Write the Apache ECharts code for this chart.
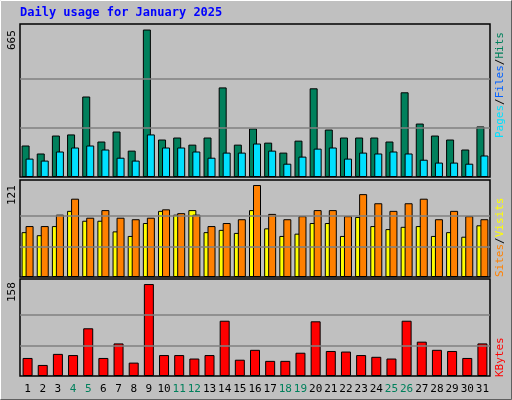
<!DOCTYPE html>
<html><head><meta charset="utf-8">
<script src="https://cdn.jsdelivr.net/npm/echarts@6/dist/echarts.min.js"></script>
<style>html,body{margin:0;padding:0;background:#c0c0c0}#c{width:512px;height:400px}</style>
</head><body><div id="c"></div>
<script>
const days = ['1','2','3','4','5','6','7','8','9','10','11','12','13','14','15','16','17','18','19','20','21','22','23','24','25','26','27','28','29','30','31'];
const weekend = ['4','5','11','12','18','19','25','26'];
const hits = [142,106,187,192,363,160,205,119,665,169,178,146,178,404,146,219,155,110,164,400,214,178,178,178,160,382,241,187,169,124,228];
const files = [83,74,115,133,142,124,87,74,192,133,133,115,87,110,110,151,119,60,92,128,133,83,110,106,115,106,78,65,65,60,97];
const sites = [59,55,67,87,74,74,60,54,71,87,82,88,59,62,58,88,64,54,57,71,71,54,79,67,63,66,67,54,59,53,68];
const visits = [67,67,82,103,78,88,78,76,78,89,84,82,67,71,76,121,83,76,80,88,88,80,109,97,87,97,103,76,87,80,76];
const kbytes = [31,19,38,36,82,31,56,23,158,36,36,30,36,95,28,45,26,26,40,94,43,42,36,33,30,95,59,45,43,31,56];
const maxLabels = ['665','121','158'];

const ch = echarts.init(document.getElementById('c'));
const grids = [{top:24,height:153},{top:180,height:97},{top:279,height:97}];
const maxes = [665,121,158];
const axMax = [690,127.6,166.7];
const mono = 'DejaVu Sans Mono';
function gridLines(idx){
  const m = maxes[idx];
  return {type:'line',xAxisIndex:idx,yAxisIndex:idx,data:[],z:1,silent:true,
    markLine:{silent:true,symbol:'none',label:{show:false},
      lineStyle:{color:'#808080',type:'solid',width:1.5},
      data:[{yAxis:m/3},{yAxis:2*m/3}]}};
}
const bs = {borderColor:'#000',borderWidth:1};
const F = '11px "DejaVu Sans Mono"';
ch.setOption({
  animation:false,
  backgroundColor:'#c0c0c0',
  grid: grids.map(g=>({left:20,right:22,top:g.top,height:g.height,show:true,backgroundColor:'#c0c0c0',borderColor:'#000',borderWidth:1.5})),
  xAxis: [0,1,2].map(i=>({type:'category',gridIndex:i,data:days,
    axisLine:{show:false},axisTick:{show:false},
    axisLabel:{show:i===2,interval:0,margin:8,fontFamily:mono,fontSize:11,
      color:(v)=>weekend.includes(v)?'#00805c':'#000'}})),
  yAxis: [0,1,2].map(i=>({type:'value',gridIndex:i,min:0,max:axMax[i],
    axisLine:{show:false},axisTick:{show:false},axisLabel:{show:false},splitLine:{show:false}})),
  series:[
    gridLines(0),gridLines(1),gridLines(2),
    {type:'bar',name:'Hits',xAxisIndex:0,yAxisIndex:0,data:hits,barWidth:8,barGap:'-50%',z:2,itemStyle:Object.assign({color:'#00805c'},bs)},
    {type:'bar',name:'Files',xAxisIndex:0,yAxisIndex:0,data:files,barWidth:8,z:3,itemStyle:Object.assign({color:'#00e0ff'},bs)},
    {type:'bar',name:'Sites',xAxisIndex:1,yAxisIndex:1,data:sites,barWidth:8,barGap:'-50%',z:2,itemStyle:Object.assign({color:'#ffff00'},bs)},
    {type:'bar',name:'Visits',xAxisIndex:1,yAxisIndex:1,data:visits,barWidth:8,z:3,itemStyle:Object.assign({color:'#ff8000'},bs)},
    {type:'bar',name:'KBytes',xAxisIndex:2,yAxisIndex:2,data:kbytes,barWidth:10,z:2,itemStyle:Object.assign({color:'#ff0000'},bs)}
  ],
  graphic:[
    {type:'polyline',shape:{points:[[0.5,399.5],[0.5,0.5],[511.5,0.5]]},style:{stroke:'#ffffff',lineWidth:1,fill:'none'},z:-1},
    {type:'polyline',shape:{points:[[511.5,0.5],[511.5,399.5],[0.5,399.5]]},style:{stroke:'#606060',lineWidth:1,fill:'none'},z:-1},
    {type:'text',left:20,top:7,style:{text:'Daily usage for January 2025',fill:'#0000ff',font:'bold 12px "DejaVu Sans Mono"'}},
    {type:'text',x:7,y:50,rotation:Math.PI/2,style:{text:maxLabels[0],fill:'#000',font:F}},
    {type:'text',x:7,y:205,rotation:Math.PI/2,style:{text:maxLabels[1],fill:'#000',font:F}},
    {type:'text',x:7,y:302,rotation:Math.PI/2,style:{text:maxLabels[2],fill:'#000',font:F}},
    {type:'text',x:495,y:138,rotation:Math.PI/2,style:{text:'{a|Pages}{s|/}{b|Files}{s|/}{c|Hits}',font:F,
      rich:{a:{fill:'#00e0ff',font:F},b:{fill:'#0060ff',font:F},c:{fill:'#00805c',font:F},s:{fill:'#000',font:F}}}},
    {type:'text',x:495,y:277,rotation:Math.PI/2,style:{text:'{a|Sites}{s|/}{b|Visits}',font:F,
      rich:{a:{fill:'#ff8000',font:F},b:{fill:'#ffff00',font:F},s:{fill:'#000',font:F}}}},
    {type:'text',x:495,y:377,rotation:Math.PI/2,style:{text:'KBytes',fill:'#ff0000',font:F}}
  ]
});
</script></body></html>
